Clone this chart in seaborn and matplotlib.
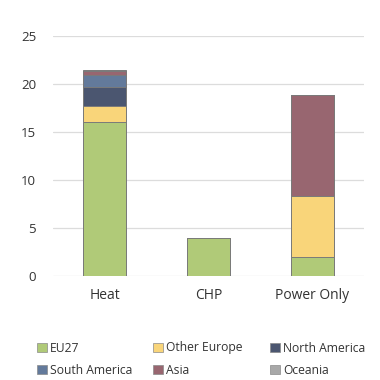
import numpy as np
import pandas as pd
import seaborn as sns
import matplotlib.pyplot as plt
from matplotlib.patches import Patch

# Values
categories = ["Heat", "CHP", "Power Only"]
regions = ["EU27", "Other Europe", "North America", "South America", "Asia", "Oceania"]
eu27 = [16.0, 4.0, 2.0]
other_europe = [1.7, 0.0, 6.3]
north_america = [2.0, 0.0, 0.0]
south_america = [1.2, 0.0, 0.0]
asia = [0.5, 0.0, 10.6]
oceania = [0.1, 0.0, 0.0]
colors = ["#b0ca78", "#f9d57a", "#4b5670", "#637a9b", "#986670", "#a8a8a8"]

sns.set_theme(style="white")
plt.rcParams["font.family"] = ["Open Sans", "DejaVu Sans"]
plt.rcParams["text.color"] = "#333333"

series = [eu27, other_europe, north_america, south_america, asia, oceania]
cum = np.cumsum(np.array(series), axis=0)

fig = plt.figure(figsize=(3.8, 3.8), dpi=100)
ax = fig.add_axes([0.139, 0.274, 0.82, 0.631])

# draw from the tallest cumulative layer down so lower segments sit on top
for i in range(len(regions) - 1, -1, -1):
    df = pd.DataFrame({"cat": categories, "val": cum[i]})
    sns.barplot(data=df, x="cat", y="val", color=colors[i], saturation=1,
                width=0.41, edgecolor="#7a7a7a", linewidth=0.7, ax=ax, zorder=3)

ax.set_ylim(0, 25)
ax.set_xlim(-0.5, 2.5)
ax.set_yticks([0, 5, 10, 15, 20, 25])
ax.set_xlabel("")
ax.set_ylabel("")
ax.grid(axis="y", color="#dcdcdc", linewidth=0.9, zorder=0)
for s in ax.spines.values():
    s.set_visible(False)
ax.tick_params(axis="y", labelsize=9.5, colors="#333333", pad=12, length=0)
ax.tick_params(axis="x", labelsize=10, colors="#333333", pad=9, length=0)

# legend: fixed-width grid of 3 columns x 2 rows, placed entry by entry
col_x = [37, 153, 270]
row_y = [348, 370]
for k, (name, c) in enumerate(zip(regions, colors)):
    h = Patch(facecolor=c, edgecolor="#8a8a8a", linewidth=0.5)
    x = col_x[k % 3] / 380
    y = 1 - row_y[k // 3] / 380
    fig.legend([h], [name], loc="center left", bbox_to_anchor=(x, y),
               frameon=False, fontsize=8.7, handlelength=0.8, handleheight=0.8,
               handletextpad=0.3, borderpad=0, borderaxespad=0)

fig.savefig("out.png", dpi=100)
